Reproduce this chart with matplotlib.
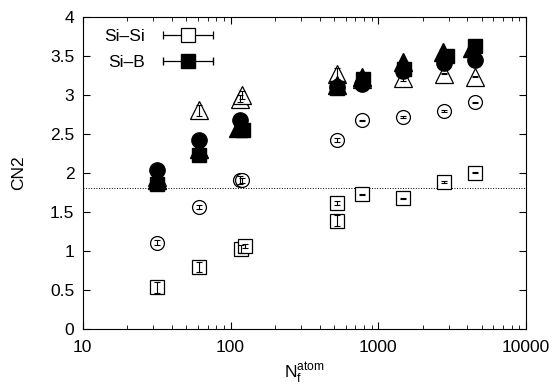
import numpy as np
import matplotlib
matplotlib.use('Agg')
from matplotlib import pyplot as plt
from matplotlib.container import ErrorbarContainer
from matplotlib.legend_handler import HandlerErrorbar

plt.rcParams['font.family'] = ['Liberation Sans', 'DejaVu Sans']
plt.rcParams['mathtext.fontset'] = 'custom'
plt.rcParams['mathtext.rm'] = 'Liberation Sans'
plt.rcParams['font.size'] = 12.5

# Si-Si, open symbols
sq_open_n = [32, 61, 117, 125, 522, 522, 771, 1476, 2800, 4500]
sq_open_y = [0.53, 0.79, 1.02, 1.06, 1.38, 1.61, 1.72, 1.67, 1.88, 2.00]
sq_open_e = [0.07, 0.06, 0.05, 0.03, 0.07, 0.02, 0.01, 0.01, 0.01, 0.01]

ci_open_n = [32, 61, 116, 119, 522, 771, 1476, 2800, 4500]
ci_open_y = [1.10, 1.56, 1.91, 1.90, 2.42, 2.67, 2.71, 2.79, 2.90]
ci_open_e = [0.03, 0.03, 0.05, 0.03, 0.03, 0.01, 0.01, 0.01, 0.01]

tr_open_n = [32, 61, 116, 120, 522, 771, 1476, 2800, 4500]
tr_open_y = [1.95, 2.80, 2.95, 3.00, 3.27, 3.20, 3.21, 3.27, 3.23]
tr_open_e = [0.05, 0.07, 0.04, 0.05, 0.07, 0.03, 0.03, 0.01, 0.01]

# Si-B, filled symbols
sq_fill_n = [32, 61, 122, 522, 790, 1500, 2900, 4500]
sq_fill_y = [1.85, 2.23, 2.55, 3.08, 3.20, 3.33, 3.49, 3.62]

ci_fill_n = [32, 61, 116, 522, 771, 1476, 2800, 4500]
ci_fill_y = [2.03, 2.42, 2.68, 3.10, 3.13, 3.30, 3.40, 3.45]

tr_fill_n = [32, 61, 112, 522, 771, 1476, 2754, 4300]
tr_fill_y = [1.90, 2.30, 2.57, 3.12, 3.22, 3.42, 3.55, 3.60]

ref_line = 1.8

fig, ax = plt.subplots(figsize=(5.52, 3.87), dpi=100)
fig.subplots_adjust(left=0.150, right=0.953, bottom=0.151, top=0.957)

op = dict(mfc='white', mec='black', mew=0.9, linestyle='none', zorder=2)
eb = dict(fmt='none', ecolor='black', elinewidth=0.8, capsize=2, capthick=0.8, zorder=3)

ax.plot(sq_open_n, sq_open_y, 's', ms=10, **op)
ax.errorbar(sq_open_n, sq_open_y, yerr=sq_open_e, **eb)
ax.plot(ci_open_n, ci_open_y, 'o', ms=10, **op)
ax.errorbar(ci_open_n, ci_open_y, yerr=ci_open_e, **eb)
ax.plot(tr_open_n, tr_open_y, '^', ms=13, **op)
ax.errorbar(tr_open_n, tr_open_y, yerr=tr_open_e, **eb)

ax.plot(tr_fill_n, tr_fill_y, '^', ms=13, color='black', linestyle='none', zorder=4)
ax.plot(ci_fill_n, ci_fill_y, 'o', ms=11, color='black', linestyle='none', zorder=4)
ax.plot(sq_fill_n, sq_fill_y, 's', ms=10.5, color='black', linestyle='none', zorder=4)

ax.axhline(ref_line, color='black', linestyle=':', linewidth=0.7, zorder=1)

# legend proxies with horizontal bars (gnuplot style), removed after the legend is built
h1 = ax.errorbar(sq_open_n[:1], sq_open_y[:1], xerr=[1], fmt='s', ms=10.5, mfc='white',
                 mec='black', mew=0.9, color='black', elinewidth=0.9, capsize=3,
                 label='Si–Si')
h2 = ax.errorbar(sq_fill_n[:1], sq_fill_y[:1], xerr=[1], fmt='s', ms=10.5, color='black',
                 elinewidth=0.9, capsize=3, label='Si–B')
ax.legend(handles=[h1, h2], loc='upper left', frameon=False, markerfirst=False,
          handlelength=3.8, handletextpad=0.6, labelspacing=0.65,
          borderaxespad=0.3, bbox_to_anchor=(0.02, 1.0),
          handler_map={ErrorbarContainer: HandlerErrorbar(xerr_size=1.45)})
h1.remove()
h2.remove()

ax.set_xscale('log')
ax.set_xlim(10, 10000)
ax.set_ylim(0, 4)
ax.set_yticks(np.arange(0, 4.01, 0.5))
ax.set_yticklabels(['0', '0.5', '1', '1.5', '2', '2.5', '3', '3.5', '4'])
ax.set_xticks([10, 100, 1000, 10000])
ax.set_xticklabels(['10', '100', '1000', '10000'])
ax.tick_params(which='both', direction='in', top=True, right=True)
ax.tick_params(which='major', length=5)
ax.tick_params(which='minor', length=3)
ax.tick_params(axis='x', pad=8)
ax.tick_params(axis='y', pad=6)

ax.set_xlabel(r'$\mathrm{N}_\mathrm{f}^\mathrm{atom}$', labelpad=4)
ax.set_ylabel('CN2', labelpad=17)

plt.savefig('out.png')
